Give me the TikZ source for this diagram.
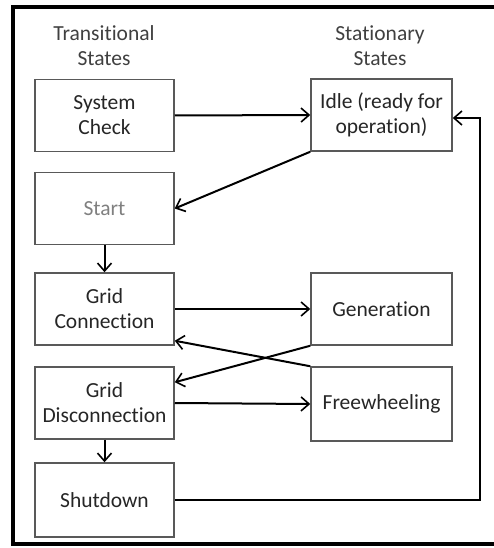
\documentclass[tikz,border=0pt]{standalone}
\usepackage{fontspec}
\setmainfont[Ligatures={NoCommon}]{Carlito}
\usetikzlibrary{arrows.meta,calc}
\begin{document}
\begin{tikzpicture}[x=1pt,y=-1pt,
  statebox/.style={draw=black!65,line width=1.5pt,minimum width=139pt,minimum height=72pt,
    align=center,inner sep=2pt,text=black!85,font=\fontsize{21.5}{25}\selectfont},
  hdr/.style={align=center,text=black!75,font=\fontsize{21.5}{25}\selectfont},
  arr/.style={draw=black,line width=2pt,-{Straight Barb[length=8pt,width=14pt,line width=1.6pt]}}]
\useasboundingbox (0,0) rectangle (494,548);
\clip (0,0) rectangle (494,548);
\fill[white] (0,0) rectangle (494,548);
\draw[line width=3.5pt] (13,7) rectangle (500,544);
\node[hdr] (h1) at (104,46) {Transitional\\States};
\node[hdr] (h2) at (380,46) {Stationary\\States};
\node[statebox] (sc) at (104.5,115.5) {System\\Check};
\node[statebox,text=black!50] (st) at (104.5,208.5) {Start};
\node[statebox] (gc) at (104.5,309) {Grid\\Connection};
\node[statebox] (gd) at (104.5,403) {Grid\\Disconnection};
\node[statebox,minimum height=74pt] (sd) at (104.5,500) {Shutdown};
\node[statebox,minimum width=141pt] (idle) at (381.5,115) {Idle (ready for\\operation)};
\node[statebox,minimum width=141pt] (gen) at (381.5,309) {Generation};
\node[statebox,minimum width=141pt,minimum height=74pt] (fw) at (381.5,404) {Freewheeling};
\coordinate (rt) at (480,118);
\draw[arr] (sc.east) -- (idle.west);
\draw[arr] (idle.south west) -- (st.east);
\draw[arr] (st.south) -- (gc.north);
\draw[arr] (gc.east) -- (gen.west);
\draw[arr] (gen.south west) -- ([yshift=-16pt]gd.north east);
\draw[arr] (fw.north west) -- ([yshift=5pt]gc.south east);
\draw[arr] (gd.east) -- (fw.west);
\draw[arr] (gd.south) -- (sd.north);
\draw[arr] (sd.east) -| (rt) -- ([yshift=-3pt]idle.east);
\end{tikzpicture}
\end{document}
